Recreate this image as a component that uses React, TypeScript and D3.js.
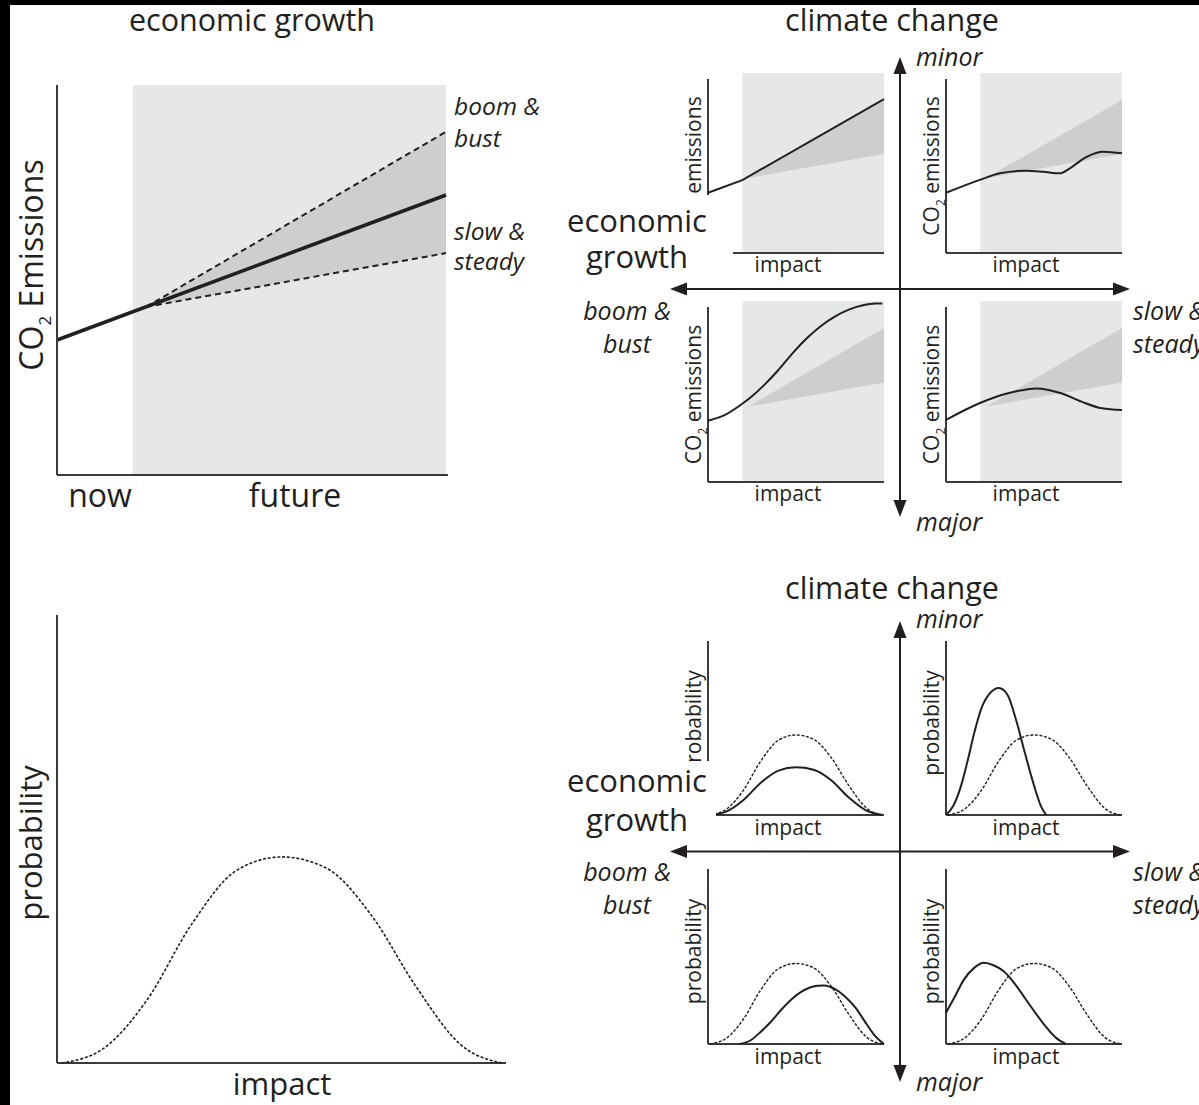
import React from "react";
import * as d3 from "d3";

type Pt = [number, number];

// ---- Emissions panel: time 0–100 (now → future), emissions 0–100 ----
const NOW_END = 19.5;
const currentTrend: Pt[] = [[0, 34.6], [100, 71.8]];
const boomBustTrend: Pt[] = [[22.9, 43.1], [100, 88]];
const slowSteadyTrend: Pt[] = [[22.9, 43.1], [100, 56.9]];

// Scenario emission paths (climate change impact × economic growth)
const emissionsMinorBoom: Pt[] = [[0, 34.6], [19.5, 41.9], [100, 88.5]];
const emissionsMinorSlow: Pt[] = [
  [0, 34.6], [19.2, 42], [30.6, 45.8], [45.8, 47.3], [55.2, 46.7], [64.7, 45.8],
  [70.4, 48.7], [79.9, 55.3], [89.4, 58.2], [100, 57.3],
];
const emissionsMajorBoom: Pt[] = [
  [0, 35], [10, 38.5], [18.5, 44], [25, 49], [32, 55.5], [40, 64], [48, 73.5],
  [56, 82], [64, 89], [72, 94.5], [80, 98.5], [88, 101], [95, 102], [99, 102],
];
const emissionsMajorSlow: Pt[] = [
  [0, 35.5], [19, 45], [35.2, 50.7], [51.5, 53.5], [65.4, 50.7], [77, 45.9],
  [88.6, 42.1], [100, 41.1],
];

// ---- Probability of impact: impact 0–100, probability 0–100 ----
const impactBaseline: Pt[] = [
  [1, 0], [10, 3], [20, 14], [30, 31], [40, 43], [50, 46], [60, 43.5],
  [70, 33], [80, 17], [90, 4], [99, 0],
];
const probMinorBoom: Pt[] = [
  [1, 0], [10, 1.8], [20, 8.5], [30, 18.5], [40, 25.5], [50, 27.4], [60, 26],
  [70, 20], [80, 10], [90, 2.5], [99, 0],
];
const probMinorSlow: Pt[] = [
  [0, 0], [4, 5], [8, 15], [12, 30], [16, 47], [20, 61], [25, 70], [30, 73],
  [35, 69], [40, 54], [45, 35], [50, 17], [54, 5], [57, 0],
];
const probMajorBoom: Pt[] = [
  [18, 0], [24, 2], [30, 7], [36, 13], [42, 20], [48, 26], [55, 31], [62, 33.3],
  [66, 33.5], [72, 31.5], [78, 27], [84, 20.5], [90, 11.5], [95, 4.5], [100, 0],
];
const probMajorSlow: Pt[] = [
  [0, 17.8], [5, 27], [10, 36.5], [16, 43.5], [21.5, 46.4], [27, 45], [33, 41.4],
  [39, 34.5], [45, 26], [51, 17.5], [56, 10.8], [62, 4], [68, 0],
];

const growthLabels = ["boom &", "bust"];
const steadyLabels = ["slow &", "steady"];

const FONT = "'Open Sans', sans-serif";
const TEXT = "#231f20";
const AXIS = "#3a3a3a";
const LIGHT = "#e6e7e8";
const FAN = "#cdcecf";

// quadrant cells: [column, row]
const CELL_X: [number, number][] = [[708, 884], [946, 1122]];
const CELL_Y: [number, number][] = [[79, 253], [307, 482]];
const PROB_DY = 562;

function mkLine(sx: d3.ScaleLinear<number, number>, sy: d3.ScaleLinear<number, number>, curve: d3.CurveFactory = d3.curveMonotoneX) {
  return d3.line<Pt>().x((d) => sx(d[0])).y((d) => sy(d[1])).curve(curve);
}

function Arrows({ cx, cy, top, bottom, left, right }: { cx: number; cy: number; top: number; bottom: number; left: number; right: number }) {
  const L = 17, HW = 6.5;
  return (
    <g fill={TEXT} stroke="none">
      <line x1={cx} y1={top + 8} x2={cx} y2={bottom - 8} stroke={TEXT} strokeWidth={2} />
      <line x1={left + 8} y1={cy} x2={right - 8} y2={cy} stroke={TEXT} strokeWidth={2} />
      <polygon points={`${cx},${top} ${cx - HW},${top + L} ${cx + HW},${top + L}`} />
      <polygon points={`${cx},${bottom} ${cx - HW},${bottom - L} ${cx + HW},${bottom - L}`} />
      <polygon points={`${left},${cy} ${left + L},${cy - HW} ${left + L},${cy + HW}`} />
      <polygon points={`${right},${cy} ${right - L},${cy - HW} ${right - L},${cy + HW}`} />
    </g>
  );
}

function EmissionsCell({ col, row, series, curve }: { col: number; row: number; series: Pt[]; curve: d3.CurveFactory }) {
  const [x0, x1] = CELL_X[col];
  const [yTop, yBot] = CELL_Y[row];
  const sx = d3.scaleLinear().domain([0, 100]).range([x0, x1]);
  const sy = d3.scaleLinear().domain([0, 100]).range([yBot, yTop]);
  const fan: Pt[] = [boomBustTrend[0], boomBustTrend[1], slowSteadyTrend[1]];
  const fanPath = d3.line<Pt>().x((d) => sx(d[0])).y((d) => sy(d[1]))(fan) + "Z";
  const my = (yTop + yBot) / 2;
  return (
    <g>
      <rect x={sx(NOW_END)} y={yTop - 6} width={x1 - sx(NOW_END)} height={yBot - yTop + 6} fill={LIGHT} />
      <path d={fanPath} fill={FAN} />
      <line x1={x0} y1={yTop} x2={x0} y2={yBot} stroke={AXIS} strokeWidth={2} />
      <line x1={x0} y1={yBot} x2={x1} y2={yBot} stroke={AXIS} strokeWidth={2} />
      <path d={mkLine(sx, sy, curve)(series) || ""} fill="none" stroke={TEXT} strokeWidth={2} />
      <text transform={`translate(${x0 - 7},${my}) rotate(-90)`} textAnchor="middle" fontSize={21} fill={TEXT} fontFamily={FONT}>
        CO<tspan fontSize={12} dy={6}>2</tspan><tspan dy={-6}> emissions</tspan>
      </text>
      <text x={x0 + 80} y={yBot + 19} textAnchor="middle" fontSize={21} fill={TEXT} fontFamily={FONT}>impact</text>
    </g>
  );
}

function ProbabilityCell({ col, row, series }: { col: number; row: number; series: Pt[] }) {
  const [x0, x1] = CELL_X[col];
  const yTop = CELL_Y[row][0] + PROB_DY;
  const yBot = CELL_Y[row][1] + PROB_DY;
  const sx = d3.scaleLinear().domain([0, 100]).range([x0, x1]);
  const sy = d3.scaleLinear().domain([0, 100]).range([yBot, yTop]);
  const ln = mkLine(sx, sy);
  const my = (yTop + yBot) / 2;
  return (
    <g>
      <line x1={x0} y1={yTop} x2={x0} y2={yBot} stroke={AXIS} strokeWidth={2} />
      <line x1={x0} y1={yBot} x2={x1} y2={yBot} stroke={AXIS} strokeWidth={2} />
      <path d={ln(impactBaseline) || ""} fill="none" stroke={TEXT} strokeWidth={1.4} strokeDasharray="3 1.6" />
      <path d={ln(series) || ""} fill="none" stroke={TEXT} strokeWidth={2} />
      <text transform={`translate(${x0 - 7},${my - 5}) rotate(-90)`} textAnchor="middle" fontSize={21} fill={TEXT} fontFamily={FONT}>probability</text>
      <text x={x0 + 80} y={yBot + 20} textAnchor="middle" fontSize={21} fill={TEXT} fontFamily={FONT}>impact</text>
    </g>
  );
}

function QuadrantLabels({ minorY, majorY, titleY, econY, growY, sideY }: { minorY: number; majorY: number; titleY: number; econY: number; growY: number; sideY: number }) {
  const t = { fill: TEXT, fontFamily: FONT };
  return (
    <g {...t}>
      <text x={892} y={titleY} textAnchor="middle" fontSize={30.5}>climate change</text>
      <text x={916} y={minorY} fontSize={25} fontStyle="italic">minor</text>
      <text x={916} y={majorY} fontSize={25} fontStyle="italic">major</text>
      <text x={637} y={econY} textAnchor="middle" fontSize={31}>economic</text>
      <text x={637} y={growY} textAnchor="middle" fontSize={31}>growth</text>
      {growthLabels.map((s, i) => (
        <text key={s} x={627} y={sideY + i * 33} textAnchor="middle" fontSize={25} fontStyle="italic">{s}</text>
      ))}
      {steadyLabels.map((s, i) => (
        <text key={s} x={1133} y={sideY + i * 33} fontSize={25} fontStyle="italic">{s}</text>
      ))}
    </g>
  );
}

export default function App() {
  const W = 1199, H = 1105;

  // trend panel
  const mx = d3.scaleLinear().domain([0, 100]).range([57, 446]);
  const my = d3.scaleLinear().domain([0, 100]).range([475, 85]);
  const mline = mkLine(mx, my, d3.curveLinear);
  const fan: Pt[] = [boomBustTrend[0], boomBustTrend[1], slowSteadyTrend[1]];

  // probability panel
  const px = d3.scaleLinear().domain([0, 100]).range([57, 506]);
  const py = d3.scaleLinear().domain([0, 100]).range([1063, 615]);
  const pline = mkLine(px, py);

  const t = { fill: TEXT, fontFamily: FONT };

  return (
    <svg width={W} height={H} style={{ position: "absolute", left: 0, top: 0, background: "#fff" }}>
      <rect x={0} y={0} width={W} height={H} fill="#fff" />
      <rect x={0} y={0} width={W} height={5} fill="#000" />
      <rect x={0} y={0} width={10} height={H} fill="#000" />

      {/* CO2 emissions trend */}
      <rect x={mx(NOW_END)} y={my(100)} width={mx(100) - mx(NOW_END)} height={my(0) - my(100)} fill={LIGHT} />
      <path d={(mline(fan) || "") + "Z"} fill={FAN} />
      <path d={mline(boomBustTrend) || ""} fill="none" stroke={TEXT} strokeWidth={2} strokeDasharray="6 4" />
      <path d={mline(slowSteadyTrend) || ""} fill="none" stroke={TEXT} strokeWidth={2} strokeDasharray="6 4" />
      <path d={mline(currentTrend) || ""} fill="none" stroke={TEXT} strokeWidth={3.6} />
      <line x1={57} y1={85} x2={57} y2={475} stroke={AXIS} strokeWidth={2} />
      <line x1={57} y1={475} x2={448} y2={475} stroke={AXIS} strokeWidth={2} />
      <g {...t}>
        <text x={252} y={31} textAnchor="middle" fontSize={30.5}>economic growth</text>
        <text transform="translate(43,265) rotate(-90)" textAnchor="middle" fontSize={32}>
          CO<tspan fontSize={17} dy={8}>2</tspan><tspan dy={-8}> Emissions</tspan>
        </text>
        <text x={100} y={507} textAnchor="middle" fontSize={32}>now</text>
        <text x={295} y={507} textAnchor="middle" fontSize={32}>future</text>
        <text x={454} y={115} fontSize={24.5} fontStyle="italic">boom &amp;</text>
        <text x={454} y={147} fontSize={24.5} fontStyle="italic">bust</text>
        <text x={454} y={240} fontSize={24.5} fontStyle="italic">slow &amp;</text>
        <text x={454} y={270} fontSize={24.5} fontStyle="italic">steady</text>
      </g>

      {/* probability of impact */}
      <line x1={57} y1={615} x2={57} y2={1063} stroke={AXIS} strokeWidth={2} />
      <line x1={57} y1={1063} x2={506} y2={1063} stroke={AXIS} strokeWidth={2} />
      <path d={pline(impactBaseline) || ""} fill="none" stroke={TEXT} strokeWidth={1.6} strokeDasharray="3 1.8" />
      <g {...t}>
        <text transform="translate(42,843) rotate(-90)" textAnchor="middle" fontSize={31}>probability</text>
        <text x={282} y={1095} textAnchor="middle" fontSize={31}>impact</text>
      </g>

      {/* emission scenarios */}
      <EmissionsCell col={0} row={0} series={emissionsMinorBoom} curve={d3.curveLinear} />
      <EmissionsCell col={1} row={0} series={emissionsMinorSlow} curve={d3.curveMonotoneX} />
      <EmissionsCell col={0} row={1} series={emissionsMajorBoom} curve={d3.curveMonotoneX} />
      <EmissionsCell col={1} row={1} series={emissionsMajorSlow} curve={d3.curveMonotoneX} />
      <rect x={560} y={195} width={173} height={88} fill="#fff" />
      <Arrows cx={900} cy={289} top={57} bottom={517} left={670} right={1130} />
      <QuadrantLabels titleY={31} minorY={66} majorY={531} econY={232} growY={268} sideY={320} />

      {/* probability scenarios */}
      <ProbabilityCell col={0} row={0} series={probMinorBoom} />
      <ProbabilityCell col={1} row={0} series={probMinorSlow} />
      <ProbabilityCell col={0} row={1} series={probMajorBoom} />
      <ProbabilityCell col={1} row={1} series={probMajorSlow} />
      <rect x={560} y={761} width={156} height={83} fill="#fff" />
      <Arrows cx={900} cy={851.5} top={621} bottom={1082} left={670} right={1130} />
      <QuadrantLabels titleY={599} minorY={628} majorY={1091} econY={792} growY={831} sideY={881} />
    </svg>
  );
}
